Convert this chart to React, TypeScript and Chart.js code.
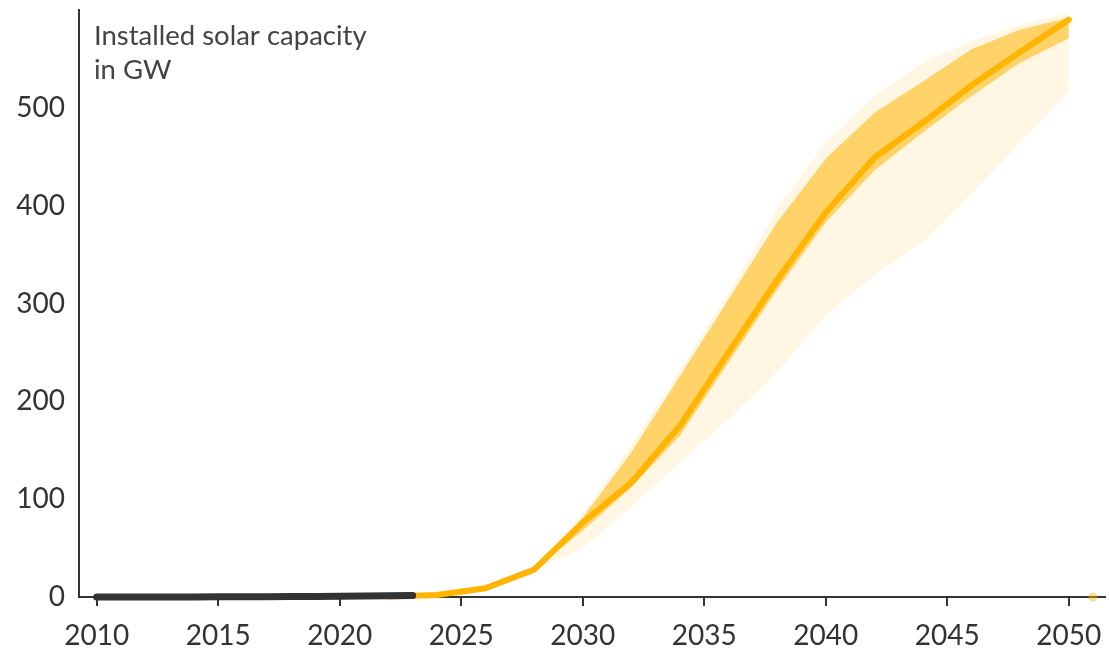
import React, { useEffect, useRef } from "react";
import { Chart, registerables } from "chart.js";

Chart.register(...registerables);

const histYears = [2010, 2011, 2012, 2013, 2014, 2015, 2016, 2017, 2018, 2019, 2020, 2021, 2022, 2023];
const histValues = [0.1, 0.1, 0.1, 0.1, 0.1, 0.2, 0.2, 0.3, 0.4, 0.6, 0.8, 1.0, 1.2, 1.5];

const projYears = [2022, 2024, 2026, 2028, 2030, 2032, 2034, 2036, 2038, 2040, 2042, 2044, 2046, 2048, 2050];
const projValues = [0.5, 2, 9, 28, 76, 117, 175, 250, 324, 393, 449, 485, 523, 557, 590];

const bandYears = [2028, 2030, 2032, 2034, 2036, 2038, 2040, 2042, 2044, 2046, 2048, 2050];
const darkUpper = [28, 81, 148, 226, 304, 383, 448, 495, 527, 560, 580, 592];
const darkLower = [28, 68, 112, 165, 240, 314, 383, 436, 475, 512, 546, 571];
const lightUpper = [28, 85, 155, 232, 311, 397, 464, 512, 546, 568, 585, 597];
const lightLower = [28, 50, 92, 138, 182, 230, 288, 329, 363, 413, 464, 517];

const dotYears = [2051];
const dotValues = [0];

const xTicks = [2010, 2015, 2020, 2025, 2030, 2035, 2040, 2045, 2050];
const yTicks = [0, 100, 200, 300, 400, 500];

const titleLines = ["Installed solar capacity", "in GW"];

const toPts = (xs: number[], ys: number[]) => xs.map((x, i) => ({ x, y: ys[i] }));

export default function App() {
  const ref = useRef<HTMLCanvasElement | null>(null);
  useEffect(() => {
    if (!ref.current) return;
    const titlePlugin = {
      id: "titleText",
      afterDraw(chart: any) {
        const ctx = chart.ctx;
        ctx.save();
        ctx.font = "27.5px Lato";
        ctx.fillStyle = "#444";
        ctx.textBaseline = "alphabetic";
        ctx.textAlign = "left";
        ctx.fillText(titleLines[0], 94, 45);
        ctx.fillText(titleLines[1], 94, 79);
        ctx.restore();
      },
    };
    const chart = new Chart(ref.current, {
      type: "line",
      data: {
        datasets: [
          {
            data: toPts(histYears, histValues),
            borderColor: "#333333",
            borderWidth: 7,
            borderCapStyle: "round",
            pointRadius: 0,
            fill: false,
            clip: false,
          } as any,
          {
            data: toPts(projYears, projValues),
            borderColor: "#FFB400",
            borderWidth: 6,
            borderCapStyle: "round",
            borderJoinStyle: "round",
            pointRadius: 0,
            fill: false,
            clip: false,
          },
          {
            data: toPts(bandYears, darkUpper),
            borderWidth: 0,
            borderColor: "rgba(0,0,0,0)",
            pointRadius: 0,
            backgroundColor: "rgba(255,180,0,0.55)",
            fill: "+1",
          },
          {
            data: toPts(bandYears, darkLower),
            borderWidth: 0,
            borderColor: "rgba(0,0,0,0)",
            pointRadius: 0,
            fill: false,
          },
          {
            data: toPts(bandYears, lightUpper),
            borderWidth: 0,
            borderColor: "rgba(0,0,0,0)",
            pointRadius: 0,
            backgroundColor: "rgba(255,180,0,0.11)",
            fill: "+1",
          },
          {
            data: toPts(bandYears, lightLower),
            borderWidth: 0,
            borderColor: "rgba(0,0,0,0)",
            pointRadius: 0,
            fill: false,
          },
          {
            data: toPts(dotYears, dotValues),
            showLine: false,
            pointRadius: 4.5,
            pointBorderWidth: 0,
            pointBackgroundColor: "rgba(255,180,0,0.45)",
            clip: false,
          } as any,
        ],
      },
      options: {
        animation: false,
        responsive: false,
        devicePixelRatio: 1,
        layout: { padding: { top: 10, right: 0, left: 0, bottom: 0 } },
        plugins: { legend: { display: false }, tooltip: { enabled: false }, title: { display: false } },
        scales: {
          x: {
            type: "linear",
            min: 2009.272,
            max: 2051.47,
            afterBuildTicks: (scale: any) => {
              scale.ticks = xTicks.map((v) => ({ value: v }));
            },
            afterFit: (scale: any) => {
              scale.height = 54;
              scale.paddingLeft = 0;
              scale.paddingRight = 0;
            },
            grid: { drawOnChartArea: false, drawTicks: true, tickLength: 9, color: "#333", lineWidth: 2 },
            border: { display: true, color: "#333", width: 2 },
            ticks: {
              color: "#333",
              font: { family: "Lato", size: 28 },
              padding: 13,
              maxRotation: 0,
              autoSkip: false,
              callback: (v: any) => String(v),
            },
          },
          y: {
            type: "linear",
            min: 0,
            max: 600,
            afterBuildTicks: (scale: any) => {
              scale.ticks = yTicks.map((v) => ({ value: v }));
            },
            afterFit: (scale: any) => {
              scale.width = 79;
              scale.paddingTop = 0;
              scale.paddingBottom = 0;
            },
            grid: { display: false },
            border: { display: true, color: "#333", width: 2 },
            ticks: {
              color: "#333",
              font: { family: "Lato", size: 28 },
              padding: 6,
              callback: (v: any) => String(v),
            },
          },
        },
      },
      plugins: [titlePlugin],
    });
    return () => chart.destroy();
  }, []);
  return (
    <div style={{ position: "absolute", left: 0, top: 0, width: 1109, height: 651, background: "#fff" }}>
      <canvas ref={ref} width={1109} height={651} style={{ display: "block" }} />
    </div>
  );
}
